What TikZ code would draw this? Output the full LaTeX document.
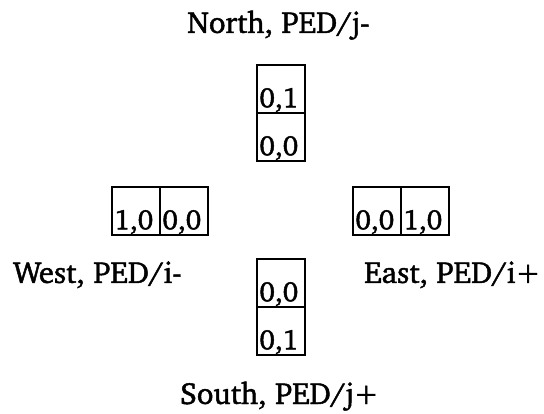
\documentclass[tikz,border=0pt]{standalone}
\usepackage[T1]{fontenc}
\usepackage{charter}
% slightly heavier glyphs: fill and stroke the outlines
\newcommand\inked[1]{\special{pdf:literal 2 Tr 0.45 w}#1\special{pdf:literal 0 Tr}}
\begin{document}
\begin{tikzpicture}[x=1pt,y=-1pt,
  cell/.style={draw, line width=2.6pt, minimum width=48pt, minimum height=48pt, inner sep=0pt},
  val/.style={anchor=base west, inner sep=0pt, xshift=3.5pt, yshift=7pt,
              font=\fontsize{28}{30}\selectfont},
  side/.style={inner sep=0pt, font=\fontsize{30.5}{33}\selectfont}]
\useasboundingbox (0,0) rectangle (544,414);

% north pair (vertical)
\node[cell, label={[val]south west:\inked{0,1}}] (n1) at (281,89) {};
\node[cell, label={[val]south west:\inked{0,0}}] (n2) at (281,137) {};
% west pair (horizontal)
\node[cell, label={[val]south west:\inked{1,0}}] (w1) at (136,211) {};
\node[cell, label={[val]south west:\inked{0,0}}] (w2) at (184,211) {};
% east pair (horizontal)
\node[cell, label={[val]south west:\inked{0,0}}] (e1) at (377,211) {};
\node[cell, label={[val]south west:\inked{1,0}}] (e2) at (425,211) {};
% south pair (vertical)
\node[cell, label={[val]south west:\inked{0,0}}] (s1) at (281,283) {};
\node[cell, label={[val]south west:\inked{0,1}}] (s2) at (281,331) {};

% direction labels
\node[side, anchor=base] (north) at (278.5,33) {\inked{North, PED/j-}};
\node[side, anchor=base] (south) at (279.5,404) {\inked{South, PED/j+}};
\node[side, anchor=base west] (west) at (13,283) {\inked{West, PED/i-}};
\node[side, anchor=base east] (east) at (541,283) {\inked{East, PED/i+}};
\end{tikzpicture}
\end{document}
